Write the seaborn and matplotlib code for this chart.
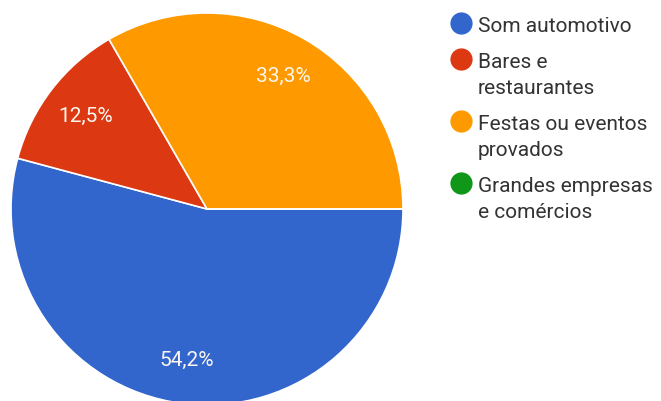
import matplotlib
matplotlib.use("Agg")
import matplotlib.pyplot as plt
from matplotlib.lines import Line2D
import seaborn as sns

# Survey answers: where the sound comes from
categories = ["Som automotivo", "Bares e restaurantes",
              "Festas ou eventos provados", "Grandes empresas e comércios"]
legend_lines = [["Som automotivo"],
                ["Bares e", "restaurantes"],
                ["Festas ou eventos", "provados"],
                ["Grandes empresas", "e comércios"]]
responses = [13, 3, 8, 0]
colors = ["#3366CC", "#DC3912", "#FF9900", "#109618"]

sns.set_theme(style="white")
plt.rcParams["font.family"] = ["Roboto", "DejaVu Sans"]
palette = sns.color_palette(colors)

W, H = 661, 401
fig = plt.figure(figsize=(W / 100, H / 100), dpi=100)
fig.patch.set_facecolor("white")

# Pie occupies a 392 px square, its bottom edge slightly past the canvas
ax = fig.add_axes([11 / W, (H - 405) / H, 392 / W, 392 / H])


def pct_label(p):
    if p < 0.05:
        return ""
    return f"{p:.1f}".replace(".", ",") + "%"


wedges, _, autotexts = ax.pie(
    responses,
    colors=palette,
    startangle=0,
    counterclock=False,
    autopct=pct_label,
    pctdistance=0.78,
    wedgeprops=dict(edgecolor="white", linewidth=1.2),
    textprops=dict(color="#fbf7f0", fontsize=15),
)
ax.set_xlim(-1, 1)
ax.set_ylim(-1, 1)
ax.set_aspect("equal")
ax.axis("off")

# Legend: circle markers aligned with the first line of each wrapped label
marker_x = 461
text_x = 478
baseline = 32
line_step = 26
entry_step = 36
for lines, col in zip(legend_lines, palette):
    fig.add_artist(Line2D([marker_x / W], [(H - (baseline - 9)) / H],
                          marker="o", markersize=16, color=col,
                          markeredgewidth=0, transform=fig.transFigure))
    for i, line in enumerate(lines):
        y = baseline + i * line_step
        fig.text(text_x / W, (H - y) / H, line, fontsize=15,
                 color="#333333", ha="left", va="baseline")
    baseline += (len(lines) - 1) * line_step + entry_step

fig.savefig("out.png", dpi=100, facecolor="white")
